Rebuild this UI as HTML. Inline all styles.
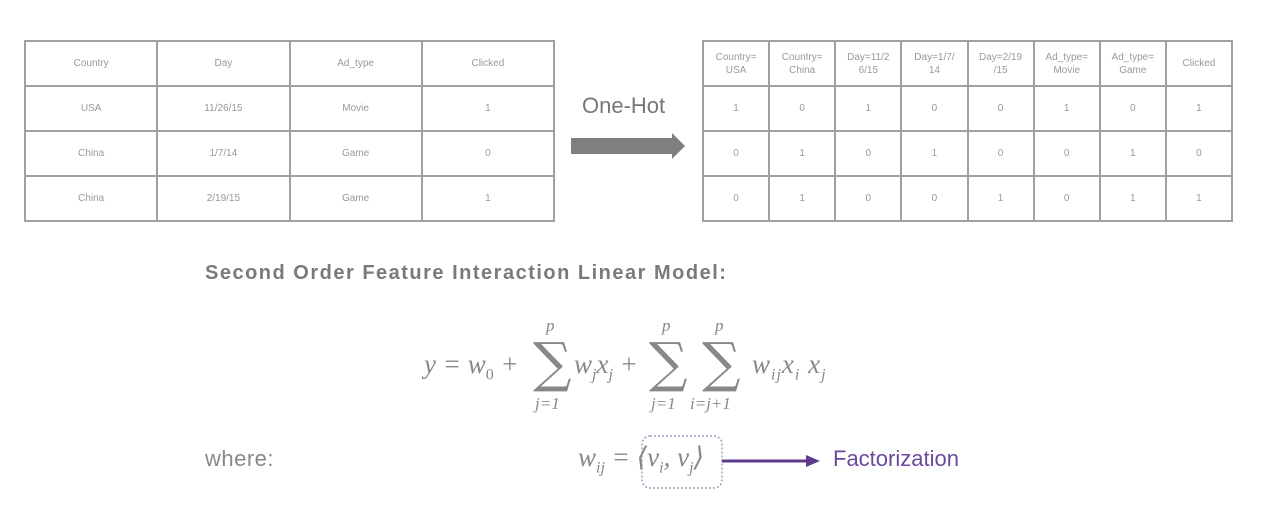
<!DOCTYPE html>
<html><head><meta charset="utf-8"><style>
body{margin:0;width:1268px;height:512px;background:#fff;position:relative;overflow:hidden;font-family:"Liberation Sans",sans-serif;color:#888}
.t{position:absolute;border-collapse:collapse;table-layout:fixed}
.t td{border:2px solid #a0a0a0;text-align:center;vertical-align:middle;font-size:10px;color:#999;padding:0;line-height:13px}
.a{position:absolute;white-space:nowrap}
.m{font-family:"Liberation Serif","DejaVu Serif",serif;font-style:italic;color:#888;font-size:27px}
.s{font-family:"DejaVu Serif",serif;font-style:normal;font-size:54px;color:#888;line-height:54px}
.sm{font-family:"Liberation Serif",serif;font-style:italic;font-size:17px;color:#888}
sub{font-size:16px}
</style></head><body>
<table class="t" style="left:24px;top:40px;width:531px;height:180px">
<tr style="height:45px"><td>Country</td><td>Day</td><td>Ad_type</td><td>Clicked</td></tr>
<tr style="height:45px"><td>USA</td><td>11/26/15</td><td>Movie</td><td>1</td></tr>
<tr style="height:45px"><td>China</td><td>1/7/14</td><td>Game</td><td>0</td></tr>
<tr style="height:45px"><td>China</td><td>2/19/15</td><td>Game</td><td>1</td></tr>
</table>
<div class="a" style="left:582px;top:93px;font-size:22px;color:#777">One-Hot</div>
<svg class="a" style="left:0;top:0" width="1268" height="512"><polygon points="571,138 672,138 672,133 685,146 672,159 672,154 571,154" fill="#808080"/>
<rect x="642" y="436" width="80" height="52" rx="8" fill="none" stroke="#8a8ab0" stroke-width="1.2" stroke-dasharray="2,2"/>
<line x1="722" y1="461" x2="808" y2="461" stroke="#5b3a8c" stroke-width="3"/><polygon points="806,455 820,461 806,467" fill="#5b3a8c"/></svg>
<table class="t" style="left:702px;top:40px;width:531px;height:180px">
<tr style="height:45px"><td>Country=<br>USA</td><td>Country=<br>China</td><td>Day=11/2<br>6/15</td><td>Day=1/7/<br>14</td><td>Day=2/19<br>/15</td><td>Ad_type=<br>Movie</td><td>Ad_type=<br>Game</td><td>Clicked</td></tr>
<tr style="height:45px"><td>1</td><td>0</td><td>1</td><td>0</td><td>0</td><td>1</td><td>0</td><td>1</td></tr>
<tr style="height:45px"><td>0</td><td>1</td><td>0</td><td>1</td><td>0</td><td>0</td><td>1</td><td>0</td></tr>
<tr style="height:45px"><td>0</td><td>1</td><td>0</td><td>0</td><td>1</td><td>0</td><td>1</td><td>1</td></tr>
</table>
<div class="a" style="left:205px;top:262px;font-size:20px;letter-spacing:1.5px;font-weight:bold;color:#7a7a7a">Second Order Feature Interaction Linear Model:</div>
<div>
<span class="a m" style="left:424px;top:349px">y = w<sub style="font-style:normal">0</sub> +</span>
<span class="a s" style="left:533px;top:336px">∑</span>
<span class="a sm" style="left:546px;top:316px">p</span>
<span class="a sm" style="left:535px;top:394px">j=1</span>
<span class="a m" style="left:574px;top:349px">w<sub>j</sub>x<sub>j</sub> +</span>
<span class="a s" style="left:649px;top:336px">∑</span>
<span class="a sm" style="left:662px;top:316px">p</span>
<span class="a sm" style="left:651px;top:394px">j=1</span>
<span class="a s" style="left:702px;top:336px">∑</span>
<span class="a sm" style="left:715px;top:316px">p</span>
<span class="a sm" style="left:690px;top:394px">i=j+1</span>
<span class="a m" style="left:752px;top:349px;letter-spacing:1px">w<sub>ij</sub>x<sub>i</sub> x<sub>j</sub></span>
</div>
<div class="a" style="left:205px;top:446px;font-size:22px;letter-spacing:0.5px;color:#888">where:</div>
<span class="a m" style="left:578px;top:442px">w<sub>ij</sub> = ⟨v<sub>i</sub>, v<sub>j</sub>⟩</span>
<div class="a" style="left:833px;top:446px;font-size:22px;color:#6a4a9c">Factorization</div>
</body></html>
